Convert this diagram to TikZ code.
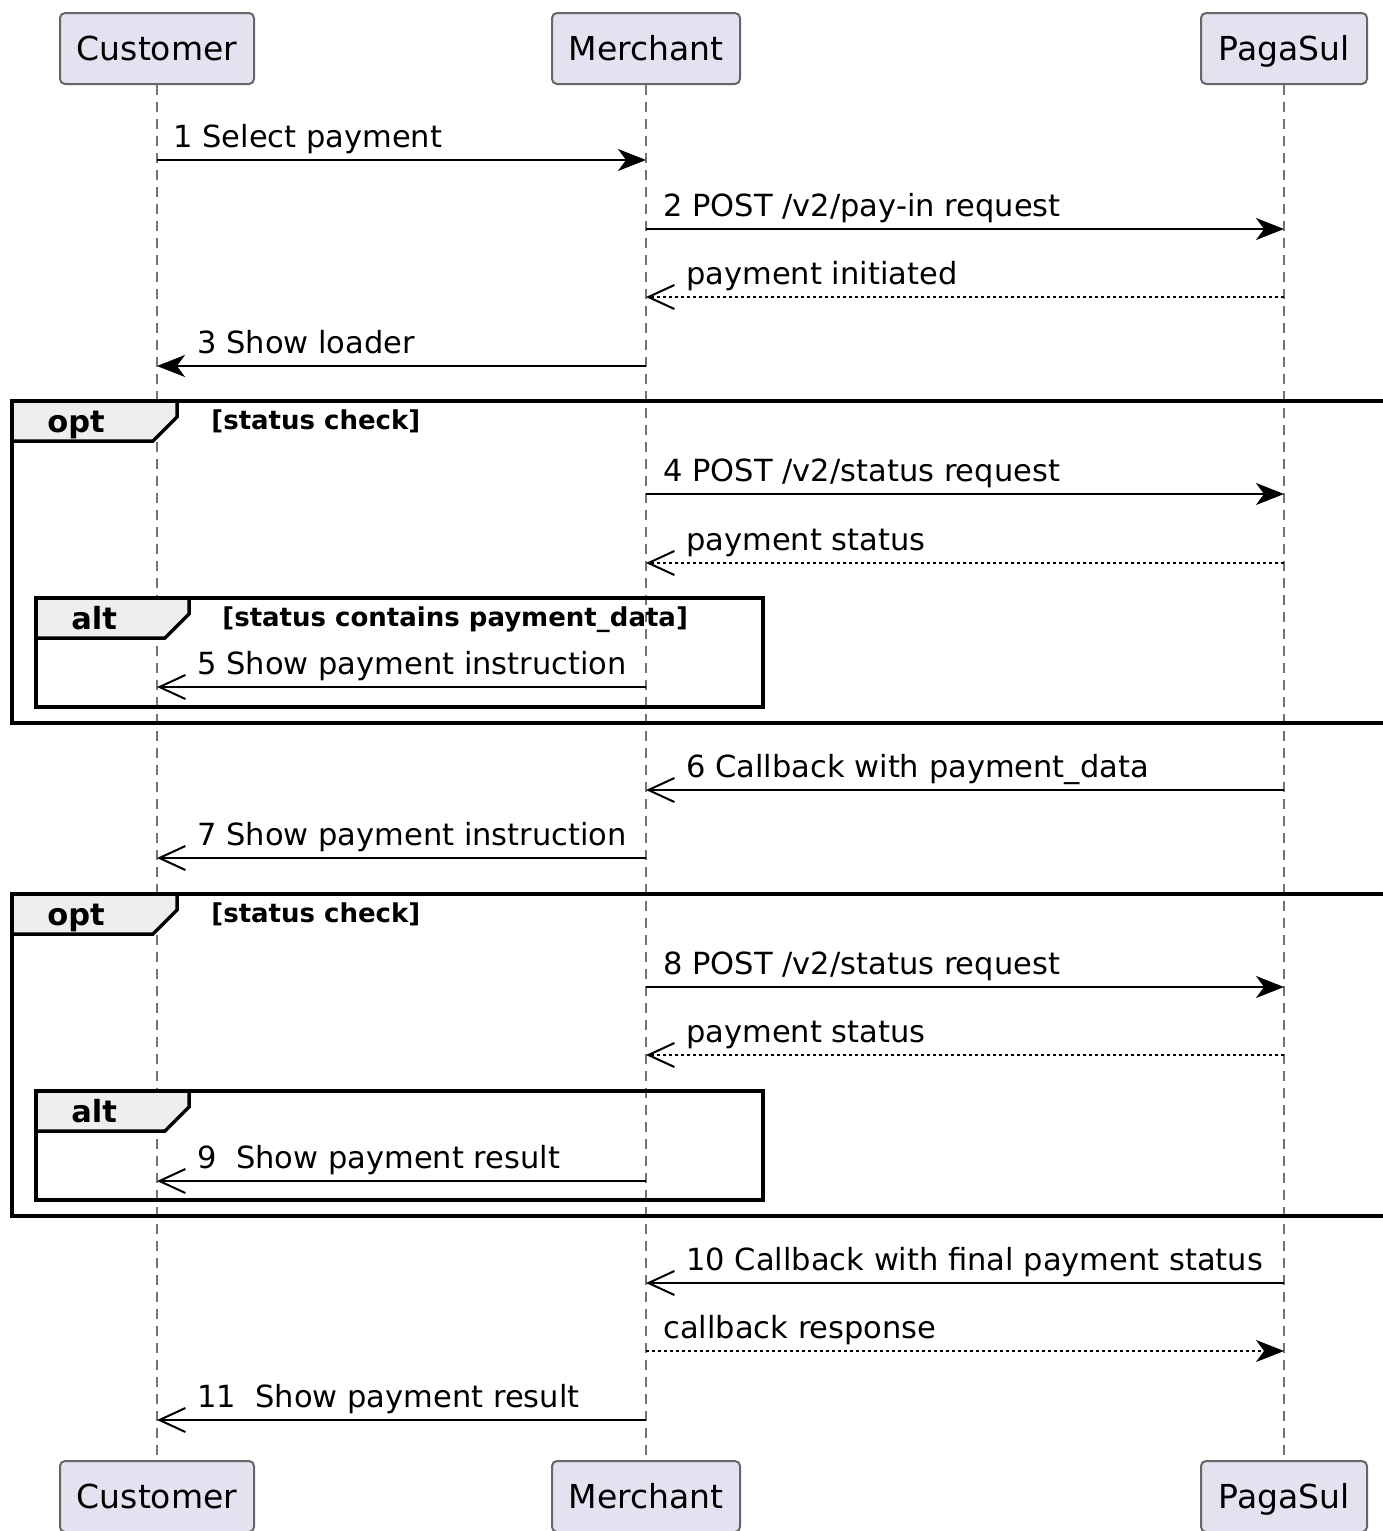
\documentclass[tikz,border=0pt]{standalone}
\usepackage{fontspec}
\setmainfont{DejaVu Sans}
\usetikzlibrary{arrows.meta}
\definecolor{partfill}{HTML}{E2E2F0}
\definecolor{tabfill}{HTML}{EEEEEE}

\begin{document}
\begin{tikzpicture}[
    x=0.5pt, y=-0.5pt,
    actor/.style={draw=black!60, fill=partfill, line width=1pt, rounded corners=2.5pt,
      minimum height=35.5pt, inner sep=0pt, text height=12pt, text depth=0pt,
      font=\fontsize{16.5}{20}\selectfont},
    lifeline/.style={draw=black!55, line width=1pt, dash pattern=on 5pt off 3.5pt},
    msg/.style={anchor=base west, inner sep=0pt, font=\fontsize{15.25}{18}\selectfont},
    sync/.style={line width=1pt, -{Stealth[length=14pt, width=11pt, inset=4pt]}},
    async/.style={line width=1pt, -{Straight Barb[length=13pt, width=12pt]}},
    dotted line/.style={dash pattern=on 1.5pt off 1.5pt},
    frame/.style={line width=1.75pt},
    tab/.style={fill=tabfill, line width=1.75pt},
    kw/.style={anchor=base west, inner sep=0pt, font=\bfseries\fontsize{15.25}{18}\selectfont},
    guard/.style={anchor=base west, inner sep=0pt, font=\bfseries\fontsize{13}{16}\selectfont}
  ]
  \useasboundingbox (0,0) rectangle (1382,1531);

  % participants
  \node[actor, minimum width=97pt] (cust) at (157,48.5) {Customer};
  \node[actor, minimum width=94pt] (merch) at (646,48.5) {Merchant};
  \node[actor, minimum width=83pt] (paga) at (1284,48.5) {PagaSul};
  \node[actor, minimum width=97pt] (custB) at (157,1496.5) {Customer};
  \node[actor, minimum width=94pt] (merchB) at (646,1496.5) {Merchant};
  \node[actor, minimum width=83pt] (pagaB) at (1284,1496.5) {PagaSul};

  \draw[lifeline] (cust) -- (custB);
  \draw[lifeline] (merch) -- (merchB);
  \draw[lifeline] (paga) -- (pagaB);

  % messages before the first check
  \draw[sync] (cust |- 0,160) -- (merch |- 0,160);
  \node[msg] (m1) at (173,147) {1 Select payment};
  \draw[sync] (merch |- 0,229) -- (paga |- 0,229);
  \node[msg] (m2) at (663,216) {2 POST /v2/pay-in request};
  \draw[async, dotted line] (paga |- 0,297) -- (merch |- 0,297);
  \node[msg] (r2) at (686,284) {payment initiated};
  \draw[sync] (merch |- 0,366) -- (cust |- 0,366);
  \node[msg] (m3) at (197,353) {3 Show loader};

  % first opt
  \draw[frame] (12,401) rectangle (1395,723);
  \draw[tab] (12,401) -- (177,401) -- (177,417) -- (153,441) -- (12,441) -- cycle;
  \node[kw] (opt1) at (47,432) {opt};
  \node[guard] (g1) at (211,429) {[status check]};
  \draw[sync] (merch |- 0,494) -- (paga |- 0,494);
  \node[msg] (m4) at (663,481) {4 POST /v2/status request};
  \draw[async, dotted line] (paga |- 0,563) -- (merch |- 0,563);
  \node[msg] (r4) at (686,550) {payment status};
  \draw[frame] (36,598) rectangle (763,707);
  \draw[tab] (36,598) -- (189,598) -- (189,614) -- (165,638) -- (36,638) -- cycle;
  \node[kw] (alt1) at (71,629) {alt};
  \node[guard] (g2) at (222,626) {[status contains payment\_data]};
  \draw[async] (merch |- 0,687) -- (cust |- 0,687);
  \node[msg] (m5) at (197,674) {5 Show payment instruction};

  \draw[async] (paga |- 0,790) -- (merch |- 0,790);
  \node[msg] (m6) at (686,777) {6 Callback with payment\_data};
  \draw[async] (merch |- 0,858) -- (cust |- 0,858);
  \node[msg] (m7) at (197,845) {7 Show payment instruction};

  % second opt
  \draw[frame] (12,894) rectangle (1395,1216);
  \draw[tab] (12,894) -- (177,894) -- (177,910) -- (153,934) -- (12,934) -- cycle;
  \node[kw] (opt2) at (47,925) {opt};
  \node[guard] (g3) at (211,922) {[status check]};
  \draw[sync] (merch |- 0,987) -- (paga |- 0,987);
  \node[msg] (m8) at (663,974) {8 POST /v2/status request};
  \draw[async, dotted line] (paga |- 0,1055) -- (merch |- 0,1055);
  \node[msg] (r8) at (686,1042) {payment status};
  \draw[frame] (36,1091) rectangle (763,1200);
  \draw[tab] (36,1091) -- (189,1091) -- (189,1107) -- (165,1131) -- (36,1131) -- cycle;
  \node[kw] (alt2) at (71,1122) {alt};
  \draw[async] (merch |- 0,1181) -- (cust |- 0,1181);
  \node[msg] (m9) at (197,1168) {9\ \ Show payment result};

  % closing messages
  \draw[async] (paga |- 0,1283) -- (merch |- 0,1283);
  \node[msg] (m10) at (686,1270) {10 Callback with final payment status};
  \draw[sync, dotted line] (merch |- 0,1351) -- (paga |- 0,1351);
  \node[msg] (r10) at (663,1338) {callback response};
  \draw[async] (merch |- 0,1420) -- (cust |- 0,1420);
  \node[msg] (m11) at (197,1407) {11\ \ Show payment result};
\end{tikzpicture}
\end{document}
